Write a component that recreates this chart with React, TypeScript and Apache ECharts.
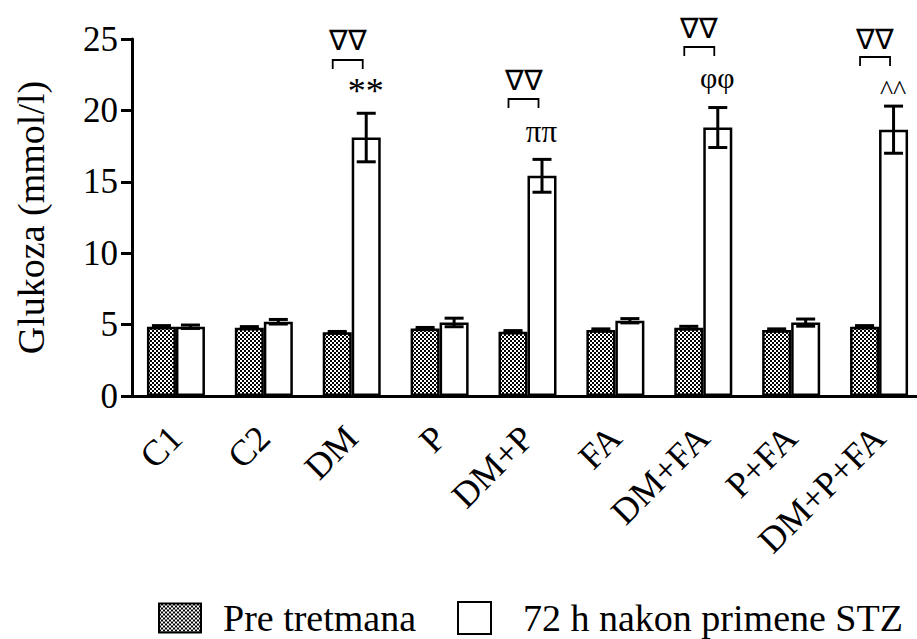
import React, { useEffect, useRef } from 'react';
import * as echarts from 'echarts';

const categories = ['C1', 'C2', 'DM', 'P', 'DM+P', 'FA', 'DM+FA', 'P+FA', 'DM+P+FA'];
const seriesNames = ['Pre tretmana', '72 h nakon primene STZ'];
const preValues = [4.85, 4.78, 4.46, 4.72, 4.5, 4.62, 4.78, 4.62, 4.85];
const preErrors = [0.08, 0.08, 0.06, 0.08, 0.08, 0.08, 0.1, 0.08, 0.08];
const postValues = [4.85, 5.2, 18.1, 5.15, 15.42, 5.27, 18.8, 5.14, 18.65];
const postErrors = [0.12, 0.16, 1.7, 0.3, 1.15, 0.15, 1.4, 0.25, 1.65];
const yTicks = [0, 5, 10, 15, 20, 25];

// significance annotations (category index, levels in mmol/l)
const annotIndex = [2, 4, 6, 8];
const bracketLevel = [23.53, 20.8, 24.44, 23.74];
const nablaLevel = [24.86, 22.06, 25.74, 24.93];
const sigLabels = ['**', 'ππ', 'φφ', '^^'];
const sigLevel = [21.35, 18.52, 22.27, 21.43];
const nablaLabel = '∇∇';

const FONT = '"Liberation Serif", "Times New Roman", serif';
const BAR_W = 29;
const CAP = 19;
const sigFontSize: Record<string, number> = { '**': 36, 'ππ': 31, 'φφ': 30, '^^': 28 };

function makePattern() {
  const c = document.createElement('canvas');
  c.width = 4;
  c.height = 4;
  const ctx = c.getContext('2d')!;
  ctx.fillStyle = '#000';
  ctx.fillRect(0, 0, 4, 4);
  ctx.fillStyle = '#fff';
  ctx.fillRect(0, 0, 2, 2);
  ctx.fillRect(2, 2, 2, 2);
  return { image: c.toDataURL(), repeat: 'repeat', imageWidth: 4, imageHeight: 4 };
}

function errorSeries(vals: number[], errs: number[], sign: number) {
  return {
    type: 'custom',
    silent: true,
    z: 10,
    encode: { x: 0, y: [1, 2] },
    data: vals.map((v, i) => [i, v - errs[i], v + errs[i]]),
    renderItem: (params: any, api: any) => {
      const i = api.value(0);
      const lo = api.coord([i, api.value(1)]);
      const hi = api.coord([i, api.value(2)]);
      const x = lo[0] + (sign * BAR_W) / 2;
      const h = CAP / 2;
      const st = { stroke: '#000', lineWidth: 3 };
      return {
        type: 'group',
        children: [
          { type: 'line', shape: { x1: x, y1: hi[1], x2: x, y2: lo[1] }, style: st },
          { type: 'line', shape: { x1: x - h, y1: hi[1], x2: x + h, y2: hi[1] }, style: st },
          { type: 'line', shape: { x1: x - h, y1: lo[1], x2: x + h, y2: lo[1] }, style: st },
        ],
      };
    },
  };
}

export default function App() {
  const ref = useRef<HTMLDivElement>(null);
  useEffect(() => {
    const chart = echarts.init(ref.current!, null, { renderer: 'svg' });
    const pattern = makePattern();
    const legendText = { fontSize: 38, fontFamily: FONT, color: '#000' };
    const option: any = {
      animation: false,
      backgroundColor: '#fff',
      grid: { left: 132, right: -6, top: 39, bottom: 243, outerBoundsMode: 'none', containLabel: false },
      legend: [
        {
          data: [seriesNames[0]],
          left: 158,
          top: 599,
          icon: 'rect',
          itemWidth: 42,
          itemHeight: 29,
          padding: 0,
          textStyle: { ...legendText, padding: [0, 0, 0, 17] },
        },
        {
          data: [seriesNames[1]],
          left: 457,
          top: 599,
          icon: 'rect',
          itemWidth: 33,
          itemHeight: 32,
          padding: 0,
          textStyle: { ...legendText, padding: [0, 0, 0, 27] },
        },
      ],
      xAxis: {
        type: 'category',
        data: categories,
        axisLine: { lineStyle: { color: '#000', width: 3 } },
        axisTick: { alignWithLabel: true, length: 11, lineStyle: { color: '#000', width: 3 } },
        axisLabel: { interval: 0, rotate: 45, fontSize: 36, fontFamily: FONT, color: '#000', margin: 36 },
        splitLine: { show: false },
      },
      yAxis: {
        type: 'value',
        min: yTicks[0],
        max: yTicks[yTicks.length - 1],
        interval: yTicks[1] - yTicks[0],
        name: 'Glukoza (mmol/l)',
        nameLocation: 'middle',
        nameGap: 82,
        nameRotate: 90,
        nameTextStyle: { fontSize: 38, fontFamily: FONT, color: '#000' },
        axisLine: { show: true, lineStyle: { color: '#000', width: 3 } },
        axisTick: { show: true, length: 11, lineStyle: { color: '#000', width: 3 } },
        axisLabel: { fontSize: 35, fontFamily: FONT, color: '#000', margin: 14 },
        splitLine: { show: false },
      },
      series: [
        {
          name: seriesNames[0],
          type: 'bar',
          data: preValues,
          barWidth: BAR_W,
          barGap: '0%',
          itemStyle: { color: pattern, borderColor: '#000', borderWidth: 2.5 },
        },
        {
          name: seriesNames[1],
          type: 'bar',
          data: postValues,
          barWidth: BAR_W,
          barGap: '0%',
          itemStyle: { color: '#fff', borderColor: '#000', borderWidth: 2.5 },
        },
        errorSeries(preValues, preErrors, -1),
        errorSeries(postValues, postErrors, 1),
        {
          type: 'custom',
          silent: true,
          z: 11,
          encode: { x: 0, y: [1, 2, 3] },
          data: annotIndex.map((c, k) => [c, bracketLevel[k], nablaLevel[k], sigLevel[k]]),
          renderItem: (params: any, api: any) => {
            const k = params.dataIndex;
            const i = api.value(0);
            const b = api.coord([i, api.value(1)]);
            const n = api.coord([i, api.value(2)]);
            const s = api.coord([i, api.value(3)]);
            const xc = b[0] - 4;
            const xL = xc - 15;
            const xR = xc + 15;
            const lab = sigLabels[k];
            return {
              type: 'group',
              children: [
                {
                  type: 'polyline',
                  shape: { points: [[xL, b[1] + 9], [xL, b[1]], [xR, b[1]], [xR, b[1] + 9]] },
                  style: { stroke: '#000', lineWidth: 1.8, fill: 'none' },
                },
                {
                  type: 'text',
                  x: xc,
                  y: n[1],
                  style: { text: nablaLabel, fontSize: 28, fontFamily: FONT, fill: '#000', align: 'center', verticalAlign: 'middle' },
                },
                {
                  type: 'text',
                  x: b[0] + 14,
                  y: s[1],
                  style: { text: lab, fontSize: sigFontSize[lab] || 30, fontFamily: FONT, fill: '#000', align: 'center', verticalAlign: 'middle' },
                },
              ],
            };
          },
        },
      ],
    };
    chart.setOption(option);
    return () => chart.dispose();
  }, []);
  return <div ref={ref} style={{ position: 'absolute', left: 0, top: 0, width: 917, height: 639 }} />;
}
